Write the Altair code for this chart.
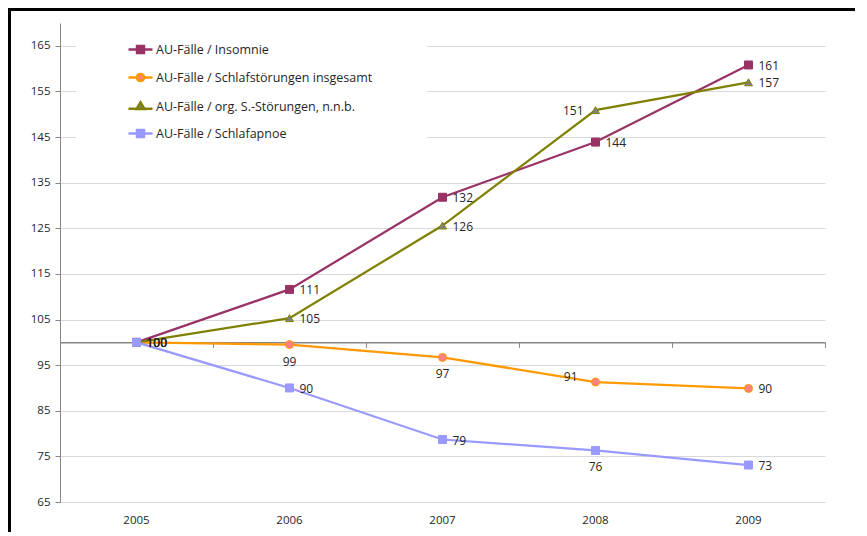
import altair as alt
import pandas as pd

years = ["2005", "2006", "2007", "2008", "2009"]
series = [
    "AU-Fälle / Insomnie",
    "AU-Fälle / Schlafstörungen insgesamt",
    "AU-Fälle / org. S.-Störungen, n.n.b.",
    "AU-Fälle / Schlafapnoe",
]
insomnie = [100, 111.6, 131.8, 143.9, 160.8]
schlaf = [100, 99.5, 96.7, 91.3, 89.9]
org = [100, 105.3, 125.6, 150.9, 157.0]
apnoe = [100, 90.0, 78.7, 76.3, 73.1]

insomnie_lbl = [100, 111, 132, 144, 161]
schlaf_lbl = [100, 99, 97, 91, 90]
org_lbl = [100, 105, 126, 151, 157]
apnoe_lbl = [100, 90, 79, 76, 73]

insomnie_pos = ["right", "right", "right", "right", "right"]
schlaf_pos = ["right", "below", "below", "upleft", "right"]
org_pos = ["right", "right", "right", "left", "right"]
apnoe_pos = ["right", "right", "right", "below", "right"]

line_colors = ["#993366", "#FF9900", "#808000", "#9999FF"]
fill_colors = ["#993366", "#FF8080", "#808080", "#9999FF"]
shapes = ["square", "circle", "triangle-up", "square"]
legend_shapes = [
    "M-1,0H1M-0.29,-0.29H0.29V0.29H-0.29Z",
    "M-1,0H-0.3M0.3,0H1M-0.3,0A0.3,0.3 0 1,0 0.3,0A0.3,0.3 0 1,0 -0.3,0Z",
    "M-1,0.18H1M0,-0.34L0.33,0.2L-0.33,0.2Z",
    "M-1,0H1M-0.29,-0.29H0.29V0.29H-0.29Z",
]

y_ticks = [65, 75, 85, 95, 105, 115, 125, 135, 145, 155, 165]
y_domain = [65, 170]

rows = []
for s, vals, lbls, poss in zip(series,
                               [insomnie, schlaf, org, apnoe],
                               [insomnie_lbl, schlaf_lbl, org_lbl, apnoe_lbl],
                               [insomnie_pos, schlaf_pos, org_pos, apnoe_pos]):
    for y, v, l, p in zip(years, vals, lbls, poss):
        rows.append({"series": s, "year": y, "value": v, "label": str(l), "pos": p})
df = pd.DataFrame(rows)

W, H = 765, 479
PAD_L, PAD_T, PAD_R, PAD_B = 52, 15, 30, 30
FONT = "Open Sans"
TXT = "#262626"
GRAY = "#868686"
axis100_offset = -H * (100 - y_domain[0]) / (y_domain[1] - y_domain[0])

xscale = alt.Scale(type="band", paddingInner=0, paddingOuter=0)
yscale = alt.Scale(domain=y_domain, nice=False, zero=False)
stroke_scale = alt.Scale(domain=series, range=line_colors)
fill_scale = alt.Scale(domain=series, range=fill_colors)

base = alt.Chart(df)

lines = base.mark_line(strokeWidth=2.25).encode(
    x=alt.X("year:O", scale=xscale, sort=years,
            axis=alt.Axis(orient="bottom", title=None, domain=False, ticks=False,
                          labelAngle=0, labelPadding=12, labelFontSize=11.5,
                          labelColor=TXT, labelFont=FONT, grid=False)),
    y=alt.Y("value:Q", scale=yscale,
            axis=alt.Axis(values=y_ticks, title=None, grid=True, gridColor="#D9D9D9",
                          gridWidth=1, domainColor=GRAY, tickColor=GRAY, tickSize=5,
                          labelPadding=5, labelFontSize=11.5, labelColor=TXT,
                          labelFont=FONT)),
    stroke=alt.Stroke("series:N", scale=stroke_scale, legend=None),
    order=alt.Order("year:O"),
)

points = base.mark_point(filled=True, size=64, strokeWidth=1, opacity=1).encode(
    x=alt.X("year:O", scale=xscale, sort=years,
            axis=alt.Axis(orient="bottom", offset=axis100_offset, title=None,
                          labels=False, ticks=True, tickBand="extent", tickSize=5,
                          tickColor=GRAY, domainColor=GRAY, domainWidth=1.5,
                          grid=False)),
    y=alt.Y("value:Q", scale=yscale),
    fill=alt.Fill("series:N", scale=fill_scale, legend=None),
    stroke=alt.Stroke("series:N", scale=stroke_scale, legend=None),
    shape=alt.Shape("series:N", scale=alt.Scale(domain=series, range=shapes), legend=None),
)

legend_props = dict(
    title=None, orient="none", legendX=16, legendY=1, fillColor="white",
    padding=12, symbolOffset=39, labelOffset=2, rowPadding=6,
    symbolSize=576, symbolStrokeWidth=2.5, symbolOpacity=1,
    labelFontSize=12.5, labelFont=FONT, labelColor=TXT, labelLimit=0,
)
legend_layer = base.transform_filter("false").mark_point(
    filled=True, size=576, strokeWidth=2.5).encode(
    x=alt.X("year:O", scale=xscale, sort=years, axis=None),
    y=alt.Y("value:Q", scale=yscale),
    fill=alt.Fill("series:N", scale=fill_scale, legend=alt.Legend(**legend_props)),
    stroke=alt.Stroke("series:N", scale=stroke_scale, legend=alt.Legend(**legend_props)),
    shape=alt.Shape("series:N", scale=alt.Scale(domain=series, range=legend_shapes),
                    legend=alt.Legend(**legend_props)),
)

one_row = pd.DataFrame({"k": [0]})
# white background of the legend box (hides gridlines behind it)
legend_box = alt.Chart(one_row).mark_rect(fill="white").encode(
    x=alt.value(16), x2=alt.value(367), y=alt.value(1), y2=alt.value(146))

# black page frame (top and left edges only)
frame_top = alt.Chart(one_row).mark_rect(fill="black").encode(
    x=alt.value(-PAD_L), x2=alt.value(W + PAD_R), y=alt.value(-PAD_T), y2=alt.value(-PAD_T + 3))
frame_left = alt.Chart(one_row).mark_rect(fill="black").encode(
    x=alt.value(-PAD_L), x2=alt.value(-PAD_L + 3), y=alt.value(-PAD_T), y2=alt.value(H + PAD_B))

def text_layer(pos, align, dx, dy):
    return base.transform_filter(alt.datum.pos == pos).mark_text(
        align=align, baseline="middle", dx=dx, dy=dy, fontSize=12,
        font=FONT, color=TXT).encode(
        x=alt.X("year:O", scale=xscale, sort=years, axis=None),
        y=alt.Y("value:Q", scale=yscale),
        text="label:N",
    )

t_right = text_layer("right", "left", 10, 1)
t_below = text_layer("below", "center", 0, 17)
t_left = text_layer("left", "right", -12, 1)
t_upleft = text_layer("upleft", "right", -18, -5)

chart = alt.layer(
    legend_box, lines, points, t_right, t_below, t_left, t_upleft, legend_layer,
    frame_top, frame_left,
).resolve_scale(
    shape="independent", fill="independent", stroke="independent"
).resolve_axis(
    x="independent"
).properties(
    width=W, height=H,
    padding={"left": PAD_L, "top": PAD_T, "right": PAD_R, "bottom": PAD_B},
    autosize=alt.AutoSizeParams(type="none"),
    background="white",
).configure_view(stroke=None)

chart.save("out.html", embed_options={"renderer": "svg", "actions": False})
